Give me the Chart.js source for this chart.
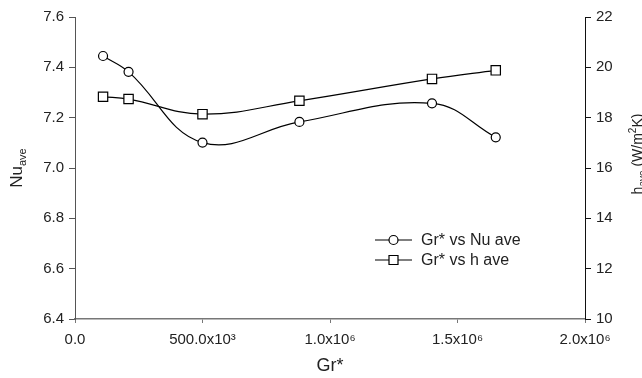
<!DOCTYPE html>
<html>
<head>
<meta charset="utf-8">
<script src="https://cdn.jsdelivr.net/npm/chart.js@4.4.1/dist/chart.umd.min.js"></script>
<style>
  html, body { margin: 0; padding: 0; background: #fff; }
  #wrap { width: 642px; height: 378px; }
</style>
</head>
<body>
<div id="wrap"><canvas id="myChart" width="642" height="378"></canvas></div>
<script>
// values
const grStar = [110000, 210000, 500000, 880000, 1400000, 1650000];
const nuAve = [7.445, 7.382, 7.101, 7.183, 7.257, 7.122];
const hAve = [18.83, 18.74, 18.14, 18.67, 19.54, 19.88];
const xTickLabels = ["0.0", "500.0x10³", "1.0x10⁶", "1.5x10⁶", "2.0x10⁶"];
const seriesLabels = ["Gr* vs Nu ave", "Gr* vs h ave"];

const FONT = "'Liberation Sans', Arial, sans-serif";
const ink = "#222";

function pts(xs, ys) {
  return xs.map((x, i) => ({ x: x, y: ys[i] }));
}

// axis titles with sub/superscripts, and the legend inside the plot
const extras = {
  id: "extras",
  afterDraw(chart) {
    const c = chart.ctx;
    const area = chart.chartArea;
    c.save();
    c.fillStyle = ink;
    c.textBaseline = "alphabetic";

    // left title: Nu_ave
    c.save();
    c.translate(22, 168);
    c.rotate(-Math.PI / 2);
    c.font = "17px " + FONT;
    const w1 = c.measureText("Nu").width;
    c.font = "11px " + FONT;
    const w2 = c.measureText("ave").width;
    let x0 = -(w1 + w2) / 2;
    c.font = "17px " + FONT;
    c.fillText("Nu", x0, 0);
    c.font = "11px " + FONT;
    c.fillText("ave", x0 + w1, 4);
    c.restore();

    // right title: h_ave (W/m²K), partly cut by the right edge
    c.save();
    c.translate(642, 154);
    c.rotate(-Math.PI / 2);
    const parts = [
      ["h", "14px", 0],
      ["ave", "10px", 4],
      [" (W/m", "14px", 0],
      ["2", "10px", -6],
      ["K)", "14px", 0],
    ];
    let tot = 0;
    parts.forEach(p => { c.font = p[1] + " " + FONT; tot += c.measureText(p[0]).width; });
    let px = -tot / 2;
    parts.forEach(p => {
      c.font = p[1] + " " + FONT;
      c.fillText(p[0], px, p[2]);
      px += c.measureText(p[0]).width;
    });
    c.restore();

    // bottom title
    c.font = "18px " + FONT;
    c.textAlign = "center";
    c.textBaseline = "middle";
    c.fillText("Gr*", (area.left + area.right) / 2, 366);

    // legend
    const rows = [240, 260];
    chart.data.datasets.forEach((ds, i) => {
      const y = rows[i];
      c.strokeStyle = "#000";
      c.lineWidth = 1.2;
      c.beginPath();
      c.moveTo(375, y);
      c.lineTo(412, y);
      c.stroke();
      c.fillStyle = "#fff";
      c.beginPath();
      if (i === 0) {
        c.arc(393.5, y, 4.5, 0, Math.PI * 2);
      } else {
        c.rect(389, y - 4.5, 9, 9);
      }
      c.fill();
      c.stroke();
      c.fillStyle = ink;
      c.font = "16px " + FONT;
      c.textAlign = "left";
      c.textBaseline = "middle";
      c.fillText(ds.label, 421, y + 1);
    });
    c.restore();
  },
};

const ctx = document.getElementById("myChart");
new Chart(ctx, {
  type: "line",
  data: {
    datasets: [
      {
        label: seriesLabels[0],
        data: pts(grStar, nuAve),
        yAxisID: "y",
        borderColor: "#000",
        borderWidth: 1.2,
        tension: 0.4,
        pointStyle: "circle",
        pointRadius: 4.5,
        pointBackgroundColor: "#fff",
        pointBorderColor: "#000",
        pointBorderWidth: 1.2,
      },
      {
        label: seriesLabels[1],
        data: pts(grStar, hAve),
        yAxisID: "y2",
        borderColor: "#000",
        borderWidth: 1.2,
        tension: 0.4,
        pointStyle: "rect",
        pointRadius: 6.6,
        pointBackgroundColor: "#fff",
        pointBorderColor: "#000",
        pointBorderWidth: 1.2,
      },
    ],
  },
  options: {
    responsive: false,
    animation: false,
    layout: { padding: { top: 17, left: 0, right: 0, bottom: 0 } },
    plugins: {
      legend: { display: false },
      tooltip: { enabled: false },
    },
    scales: {
      x: {
        type: "linear",
        position: "bottom",
        min: 0,
        max: 2000000,
        afterFit: s => { s.height = 59; },
        afterBuildTicks: s => {
          s.ticks = xTickLabels.map((t, i) => ({ value: i * 500000 }));
        },
        ticks: {
          color: ink,
          font: { family: FONT, size: 15 },
          padding: 8,
          maxRotation: 0,
          autoSkip: false,
          callback: (v, i) => xTickLabels[i],
        },
        grid: { drawOnChartArea: false, drawTicks: true, tickLength: 4, color: "#777" },
        border: { display: true, color: "#777", width: 1.5 },
      },
      y: {
        position: "left",
        min: 6.4,
        max: 7.6,
        afterFit: s => { s.width = 75; },
        ticks: {
          stepSize: 0.2,
          color: ink,
          font: { family: FONT, size: 15 },
          padding: 5,
          callback: v => Number(v).toFixed(1),
        },
        grid: { drawOnChartArea: false, drawTicks: true, tickLength: 6, color: "#555" },
        border: { display: true, color: "#555", width: 1 },
      },
      y2: {
        position: "right",
        min: 10,
        max: 22,
        afterFit: s => { s.width = 57; },
        ticks: {
          stepSize: 2,
          color: ink,
          font: { family: FONT, size: 15 },
          padding: 5,
          callback: v => String(v),
        },
        grid: { drawOnChartArea: false, drawTicks: true, tickLength: 6, color: "#111" },
        border: { display: true, color: "#111", width: 1 },
      },
    },
  },
  plugins: [extras],
});
</script>
</body>
</html>
